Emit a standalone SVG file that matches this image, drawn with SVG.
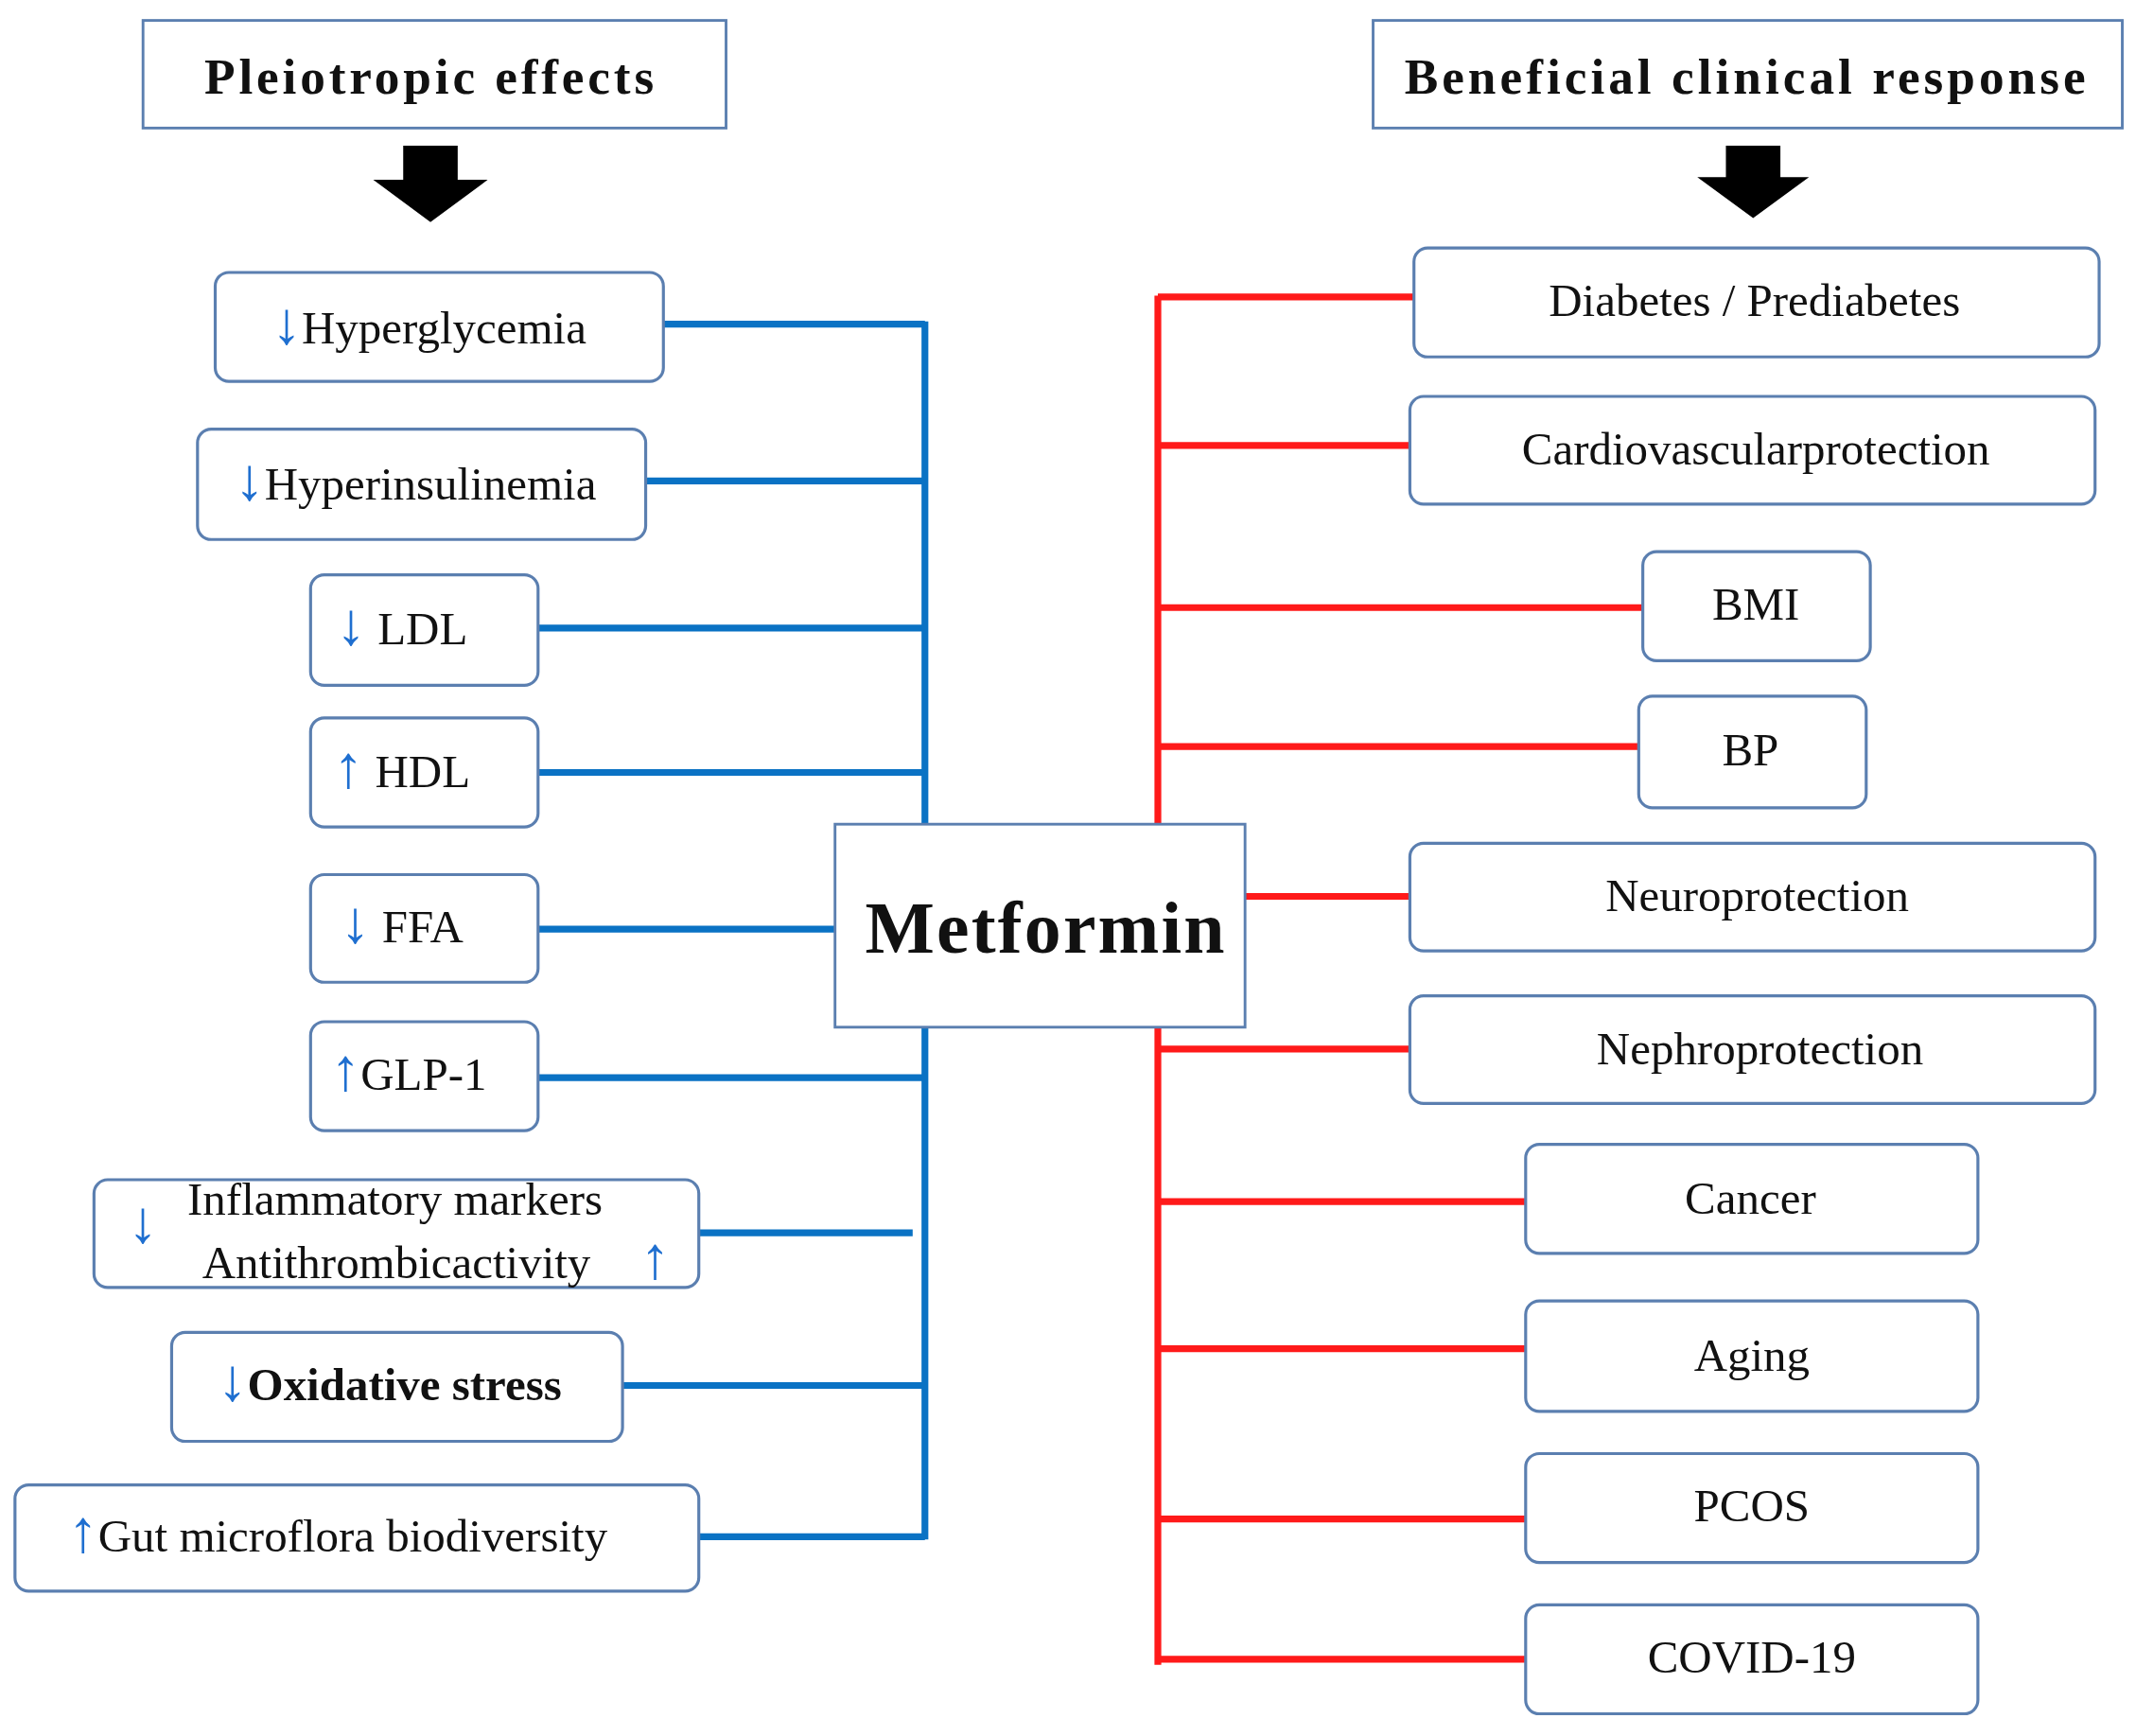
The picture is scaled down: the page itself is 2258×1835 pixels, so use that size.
<svg xmlns="http://www.w3.org/2000/svg" width="2258" height="1835" viewBox="0 0 2258 1835">
<style>
.hdr{fill:#fff;stroke:#5b7fb0;stroke-width:2}
.nd{fill:#fff;stroke:#5b7fb0;stroke-width:2.2}
text{font-family:"Liberation Serif","Times New Roman",serif;fill:#111;text-anchor:middle}
.t{font-size:34px}
.h{font-size:37px;font-weight:bold}
.a{fill:#1f6fd0;font-size:44px}
.bl{stroke:#0a72c4;stroke-width:5;fill:none}
.rd{stroke:#ff1a1a;stroke-width:5;fill:none}
</style>
<rect width="2258" height="1835" fill="#fff"/>
<g transform="scale(1.44)">
<g id="connectors">
<path class="bl" d="M487 238H679M474 353H679M395 461H679M395 567H679M395 682H613M395 791H679M513 905H670M457 1017H679M513 1128H679M679 236V1130"/>
<path class="rd" d="M850 217V1222M850 218H1038M850 327H1035M850 446H1206M850 548H1203M914 658H1035M850 770H1035M850 882H1120M850 990H1120M850 1115H1120M850 1218H1120"/>
</g>
<g id="hdr-left"><rect class="hdr" x="105" y="15" width="428" height="79"/><text class="h" x="315" y="69" textLength="330" lengthAdjust="spacing">Pleiotropic  effects</text></g>
<g id="hdr-right"><rect class="hdr" x="1008" y="15" width="550" height="79"/><text class="h" x="1281" y="69" textLength="500" lengthAdjust="spacing">Beneficial clinical response</text></g>
<g id="arrow-left"><path d="M296 107H336V132H358L316 163L274 132H296Z" fill="#000"/></g>
<g id="arrow-right"><path d="M1267 107H1307V130H1328L1287 160L1246 130H1267Z" fill="#000"/></g>
<g id="metformin"><rect x="613" y="605" width="301" height="149" fill="#fff" stroke="#5b7fb0" stroke-width="2"/><text x="767" y="699" style="font-size:54px;font-weight:bold" textLength="264" lengthAdjust="spacing">Metformin</text></g>
<g id="n1"><rect class="nd" x="158" y="200" width="329" height="80" rx="10"/><text class="t" x="315" y="252"><tspan class="a">↓</tspan>Hyperglycemia</text></g>
<g id="n2"><rect class="nd" x="145" y="315" width="329" height="81" rx="10"/><text class="t" x="305" y="367"><tspan class="a">↓</tspan>Hyperinsulinemia</text></g>
<g id="n3"><rect class="nd" x="228" y="422" width="167" height="81" rx="10"/><text class="t" x="295" y="473"><tspan class="a">↓</tspan> LDL</text></g>
<g id="n4"><rect class="nd" x="228" y="527" width="167" height="80" rx="10"/><text class="t" x="295" y="578"><tspan class="a">↑</tspan> HDL</text></g>
<g id="n5"><rect class="nd" x="228" y="642" width="167" height="79" rx="10"/><text class="t" x="295" y="692"><tspan class="a">↓</tspan> FFA</text></g>
<g id="n6"><rect class="nd" x="228" y="750" width="167" height="80" rx="10"/><text class="t" x="300" y="800"><tspan class="a">↑</tspan>GLP-1</text></g>
<g id="n7"><rect class="nd" x="69" y="866" width="444" height="79" rx="10"/><text class="a" x="105" y="912">↓</text><text class="t" x="290" y="892">Inflammatory markers</text><text class="t" x="291" y="938">Antithrombicactivity</text><text class="a" x="481" y="938">↑</text></g>
<g id="n8"><rect class="nd" x="126" y="978" width="331" height="80" rx="10" stroke-width="3"/><text class="t" x="286" y="1028" font-weight="bold"><tspan class="a" font-weight="normal">↓</tspan>Oxidative stress</text></g>
<g id="n9"><rect class="nd" x="11" y="1090" width="502" height="78" rx="10"/><text class="t" x="248" y="1139"><tspan class="a">↑</tspan>Gut microflora biodiversity</text></g>
<g id="r1"><rect class="nd" x="1038" y="182" width="503" height="80" rx="10"/><text class="t" x="1288" y="232">Diabetes / Prediabetes</text></g>
<g id="r2"><rect class="nd" x="1035" y="291" width="503" height="79" rx="10"/><text class="t" x="1289" y="341">Cardiovascularprotection</text></g>
<g id="r3"><rect class="nd" x="1206" y="405" width="167" height="80" rx="10"/><text class="t" x="1289" y="455">BMI</text></g>
<g id="r4"><rect class="nd" x="1203" y="511" width="167" height="82" rx="10"/><text class="t" x="1285" y="562">BP</text></g>
<g id="r5"><rect class="nd" x="1035" y="619" width="503" height="79" rx="10"/><text class="t" x="1290" y="669">Neuroprotection</text></g>
<g id="r6"><rect class="nd" x="1035" y="731" width="503" height="79" rx="10"/><text class="t" x="1292" y="781">Nephroprotection</text></g>
<g id="r7"><rect class="nd" x="1120" y="840" width="332" height="80" rx="10"/><text class="t" x="1285" y="891">Cancer</text></g>
<g id="r8"><rect class="nd" x="1120" y="955" width="332" height="81" rx="10"/><text class="t" x="1286" y="1006">Aging</text></g>
<g id="r9"><rect class="nd" x="1120" y="1067" width="332" height="80" rx="10"/><text class="t" x="1286" y="1117">PCOS</text></g>
<g id="r10"><rect class="nd" x="1120" y="1178" width="332" height="80" rx="10"/><text class="t" x="1286" y="1228">COVID-19</text></g>
</g>
</svg>
